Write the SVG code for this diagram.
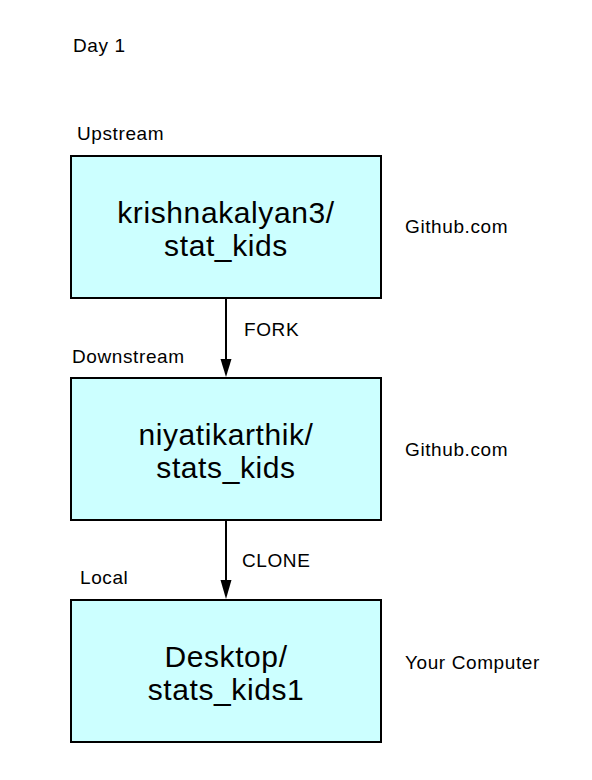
<svg xmlns="http://www.w3.org/2000/svg" width="592" height="780" viewBox="0 0 592 780">
<style>
.box{fill:#ccffff;stroke:#000;stroke-width:2}
.big{font-family:"Liberation Sans",Arial,sans-serif;font-size:30px;letter-spacing:0.6px;fill:#000;text-anchor:middle}
.lbl{font-family:"Liberation Sans",Arial,sans-serif;font-size:19px;letter-spacing:0.6px;fill:#000}
.edge{stroke:#000;stroke-width:2;fill:none}
</style>
<rect width="592" height="780" fill="#fff"/>
<text class="lbl" x="73" y="52">Day 1</text>
<text class="lbl" x="77" y="140">Upstream</text>
<text class="lbl" x="72" y="363">Downstream</text>
<text class="lbl" x="80" y="584">Local</text>
<text class="lbl" x="405" y="233">Github.com</text>
<text class="lbl" x="405" y="456">Github.com</text>
<text class="lbl" x="405" y="669">Your Computer</text>
<g id="connectors">
<line class="edge" x1="226" y1="298" x2="226" y2="360"/>
<path d="M220.5,359 L231.5,359 L226,377 z" fill="#000"/>
<text class="lbl" x="244" y="336">FORK</text>
<line class="edge" x1="226" y1="520" x2="226" y2="581"/>
<path d="M220.5,580 L231.5,580 L226,599 z" fill="#000"/>
<text class="lbl" x="242" y="567">CLONE</text>
</g>
<g id="node1">
<rect class="box" x="71" y="156" width="310" height="142"/>
<text class="big" x="226" y="223">krishnakalyan3/</text>
<text class="big" x="226" y="256">stat_kids</text>
</g>
<g id="node2">
<rect class="box" x="71" y="378" width="310" height="142"/>
<text class="big" x="226" y="445">niyatikarthik/</text>
<text class="big" x="226" y="478">stats_kids</text>
</g>
<g id="node3">
<rect class="box" x="71" y="600" width="310" height="142"/>
<text class="big" x="226" y="667">Desktop/</text>
<text class="big" x="226" y="700">stats_kids1</text>
</g>
</svg>
